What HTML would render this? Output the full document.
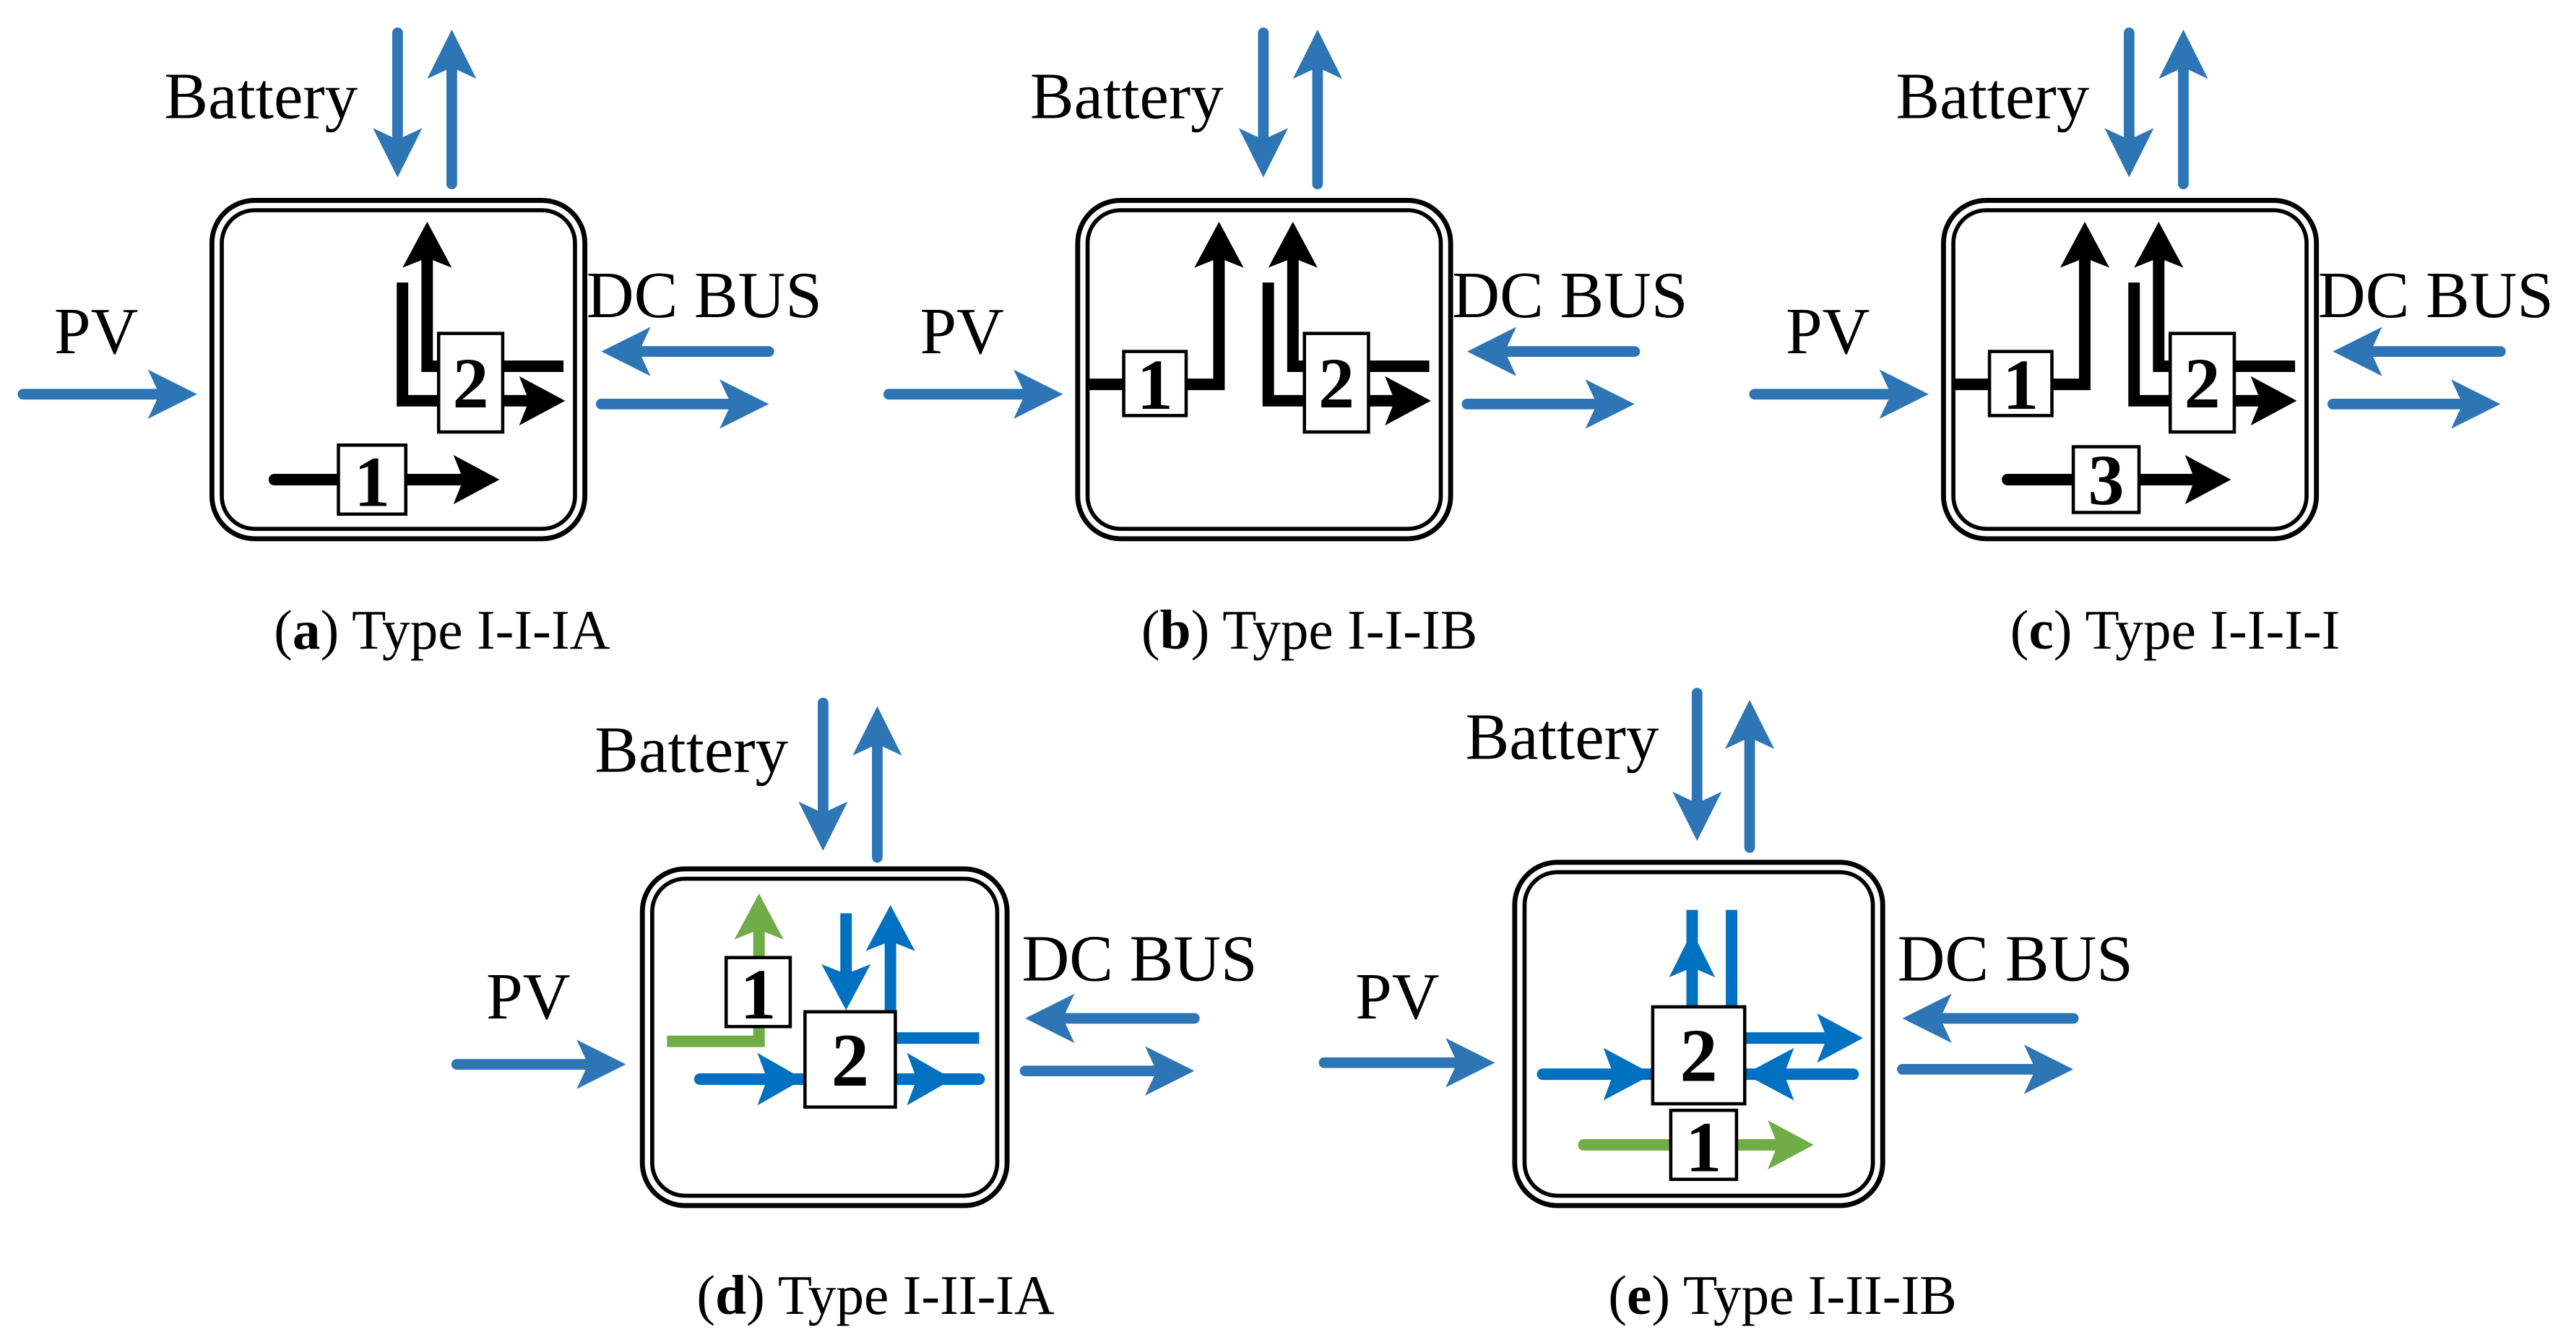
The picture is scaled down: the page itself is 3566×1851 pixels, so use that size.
<!DOCTYPE html>
<html><head><meta charset="utf-8">
<style>html,body{margin:0;padding:0;background:#fff;}svg{display:block;}</style>
</head><body>
<svg width="3566" height="1851" viewBox="0 0 1568 814" preserveAspectRatio="none" xmlns="http://www.w3.org/2000/svg" font-family="Liberation Serif, serif">
<defs>
<marker id="mb" markerUnits="userSpaceOnUse" markerWidth="32" markerHeight="32" refX="20" refY="15" orient="auto" overflow="visible"><path d="M0,0 L30,15 L0,30 L7,15z" fill="#2e75b6"/></marker>
<marker id="mk" markerUnits="userSpaceOnUse" markerWidth="32" markerHeight="32" refX="18" refY="15" orient="auto" overflow="visible"><path d="M0,0 L28,15 L0,30 L6,15z" fill="#000"/></marker>
<marker id="mi" markerUnits="userSpaceOnUse" markerWidth="32" markerHeight="32" refX="18" refY="15" orient="auto" overflow="visible"><path d="M0,0 L28,15 L0,30 L6,15z" fill="#0070c0"/></marker>
<marker id="mg" markerUnits="userSpaceOnUse" markerWidth="32" markerHeight="32" refX="18" refY="15" orient="auto" overflow="visible"><path d="M0,0 L28,15 L0,30 L6,15z" fill="#70ad47"/></marker>
<g id="common" font-family="Liberation Serif, serif">
<line x1="242" y1="20" x2="242" y2="98" stroke="#2e75b6" stroke-width="6.5" stroke-linecap="round" marker-end="url(#mb)"/>
<line x1="275" y1="112" x2="275" y2="28" stroke="#2e75b6" stroke-width="6.5" stroke-linecap="round" marker-end="url(#mb)"/>
<line x1="14" y1="240" x2="110" y2="240" stroke="#2e75b6" stroke-width="6.5" stroke-linecap="round" marker-end="url(#mb)"/>
<line x1="468" y1="214" x2="376" y2="214" stroke="#2e75b6" stroke-width="6.5" stroke-linecap="round" marker-end="url(#mb)"/>
<line x1="366" y1="246" x2="458" y2="246" stroke="#2e75b6" stroke-width="6.5" stroke-linecap="round" marker-end="url(#mb)"/>
<rect x="129" y="122" width="227" height="206" rx="26" fill="#fff" stroke="#000" stroke-width="3"/>
<rect x="135" y="128" width="215" height="194" rx="20" fill="none" stroke="#000" stroke-width="2.5"/>
<text x="100" y="72" font-size="40">Battery</text>
<text x="33" y="215" font-size="40">PV</text>
<text x="357" y="193" font-size="40">DC BUS</text>
<polyline points="245,172 245,244 334,244" fill="none" stroke="#000" stroke-width="7" marker-end="url(#mk)"/>
<polyline points="343,223 260,223 260,145" fill="none" stroke="#000" stroke-width="7" marker-end="url(#mk)"/>
<rect x="267" y="203" width="39" height="60" fill="#fff" stroke="#000" stroke-width="2"/>
<text x="286.5" y="248" font-size="44" font-weight="bold" text-anchor="middle">2</text>
</g>
</defs>

<!-- (a) -->
<use href="#common"/>
<line x1="167" y1="292" x2="294" y2="292" stroke="#000" stroke-width="7" stroke-linecap="round" marker-end="url(#mk)"/>
<rect x="206" y="271" width="41" height="42" fill="#fff" stroke="#000" stroke-width="2"/>
<text x="226.5" y="308" font-size="44" font-weight="bold" text-anchor="middle">1</text>
<text x="269" y="395" font-size="34" text-anchor="middle">(<tspan font-weight="bold">a</tspan>) Type I-I-IA</text>

<!-- (b) -->
<g transform="translate(527,0)">
<use href="#common"/>
<polyline points="135,234 215,234 215,145" fill="none" stroke="#000" stroke-width="7" marker-end="url(#mk)"/>
<rect x="157" y="214" width="38" height="39" fill="#fff" stroke="#000" stroke-width="2"/>
<text x="176" y="249" font-size="44" font-weight="bold" text-anchor="middle">1</text>
<text x="270" y="395" font-size="34" text-anchor="middle">(<tspan font-weight="bold">b</tspan>) Type I-I-IB</text>
</g>

<!-- (c) -->
<g transform="translate(1054,0)">
<use href="#common"/>
<polyline points="135,234 215,234 215,145" fill="none" stroke="#000" stroke-width="7" marker-end="url(#mk)"/>
<rect x="157" y="214" width="38" height="39" fill="#fff" stroke="#000" stroke-width="2"/>
<text x="176" y="249" font-size="44" font-weight="bold" text-anchor="middle">1</text>
<line x1="168" y1="292" x2="294" y2="292" stroke="#000" stroke-width="7" stroke-linecap="round" marker-end="url(#mk)"/>
<rect x="208" y="272" width="40" height="40" fill="#fff" stroke="#000" stroke-width="2"/>
<text x="228" y="307" font-size="44" font-weight="bold" text-anchor="middle">3</text>
<text x="270" y="395" font-size="34" text-anchor="middle">(<tspan font-weight="bold">c</tspan>) Type I-I-I-I</text>
</g>

<!-- (d) -->
<line x1="501" y1="428" x2="501" y2="508" stroke="#2e75b6" stroke-width="6.5" stroke-linecap="round" marker-end="url(#mb)"/>
<line x1="534" y1="522" x2="534" y2="440" stroke="#2e75b6" stroke-width="6.5" stroke-linecap="round" marker-end="url(#mb)"/>
<line x1="278" y1="648" x2="371" y2="648" stroke="#2e75b6" stroke-width="6.5" stroke-linecap="round" marker-end="url(#mb)"/>
<line x1="727" y1="620" x2="634" y2="620" stroke="#2e75b6" stroke-width="6.5" stroke-linecap="round" marker-end="url(#mb)"/>
<line x1="624" y1="652" x2="717" y2="652" stroke="#2e75b6" stroke-width="6.5" stroke-linecap="round" marker-end="url(#mb)"/>
<rect x="391" y="529" width="222" height="205" rx="26" fill="#fff" stroke="#000" stroke-width="3"/>
<rect x="397" y="535" width="210" height="193" rx="20" fill="none" stroke="#000" stroke-width="2.5"/>
<text x="362" y="470" font-size="40">Battery</text>
<text x="296" y="620" font-size="40">PV</text>
<text x="622" y="597" font-size="40">DC BUS</text>
<polyline points="406,634 462,634 462,554" fill="none" stroke="#70ad47" stroke-width="7" marker-end="url(#mg)"/>
<rect x="442" y="583" width="39" height="42" fill="#fff" stroke="#000" stroke-width="2"/>
<text x="461.5" y="620" font-size="44" font-weight="bold" text-anchor="middle">1</text>
<line x1="515" y1="556" x2="515" y2="605" stroke="#0070c0" stroke-width="7" marker-end="url(#mi)"/>
<line x1="542" y1="616" x2="542" y2="561" stroke="#0070c0" stroke-width="7" marker-end="url(#mi)"/>
<line x1="545" y1="632" x2="596" y2="632" stroke="#0070c0" stroke-width="7"/>
<line x1="426" y1="657" x2="596" y2="657" stroke="#0070c0" stroke-width="7" stroke-linecap="round"/>
<polygon points="489,657 461,641 467,657 461,673" fill="#0070c0"/>
<polygon points="580,657 552,641 558,657 552,673" fill="#0070c0"/>
<rect x="490" y="616" width="55" height="58" fill="#fff" stroke="#000" stroke-width="2"/>
<text x="517.5" y="661" font-size="46" font-weight="bold" text-anchor="middle">2</text>
<text x="533" y="800" font-size="34" text-anchor="middle">(<tspan font-weight="bold">d</tspan>) Type I-II-IA</text>

<!-- (e) -->
<line x1="1033" y1="422" x2="1033" y2="502" stroke="#2e75b6" stroke-width="6.5" stroke-linecap="round" marker-end="url(#mb)"/>
<line x1="1065" y1="516" x2="1065" y2="436" stroke="#2e75b6" stroke-width="6.5" stroke-linecap="round" marker-end="url(#mb)"/>
<line x1="806" y1="647" x2="900" y2="647" stroke="#2e75b6" stroke-width="6.5" stroke-linecap="round" marker-end="url(#mb)"/>
<line x1="1262" y1="620" x2="1168" y2="620" stroke="#2e75b6" stroke-width="6.5" stroke-linecap="round" marker-end="url(#mb)"/>
<line x1="1158" y1="651" x2="1252" y2="651" stroke="#2e75b6" stroke-width="6.5" stroke-linecap="round" marker-end="url(#mb)"/>
<rect x="922" y="525" width="224" height="209" rx="26" fill="#fff" stroke="#000" stroke-width="3"/>
<rect x="928" y="531" width="212" height="197" rx="20" fill="none" stroke="#000" stroke-width="2.5"/>
<text x="892" y="462" font-size="40">Battery</text>
<text x="825" y="620" font-size="40">PV</text>
<text x="1155" y="597" font-size="40">DC BUS</text>
<line x1="1030" y1="554" x2="1030" y2="613" stroke="#0070c0" stroke-width="7"/>
<polygon points="1030,567 1016,595 1030,589 1044,595" fill="#0070c0"/>
<line x1="1054" y1="554" x2="1054" y2="613" stroke="#0070c0" stroke-width="7"/>
<line x1="1062" y1="632" x2="1124" y2="632" stroke="#0070c0" stroke-width="7" marker-end="url(#mi)"/>
<line x1="939" y1="654" x2="1128" y2="654" stroke="#0070c0" stroke-width="7" stroke-linecap="round"/>
<polygon points="1006,654 976,638 982,654 976,670" fill="#0070c0"/>
<polygon points="1062,654 1092,638 1086,654 1092,670" fill="#0070c0"/>
<line x1="964" y1="697" x2="1094" y2="697" stroke="#70ad47" stroke-width="7" stroke-linecap="round" marker-end="url(#mg)"/>
<rect x="1006" y="613" width="56" height="59" fill="#fff" stroke="#000" stroke-width="2"/>
<text x="1034" y="658" font-size="46" font-weight="bold" text-anchor="middle">2</text>
<rect x="1017" y="676" width="40" height="42" fill="#fff" stroke="#000" stroke-width="2"/>
<text x="1037" y="713" font-size="44" font-weight="bold" text-anchor="middle">1</text>
<text x="1085" y="800" font-size="34" text-anchor="middle">(<tspan font-weight="bold">e</tspan>) Type I-II-IB</text>
</svg>
</body></html>
